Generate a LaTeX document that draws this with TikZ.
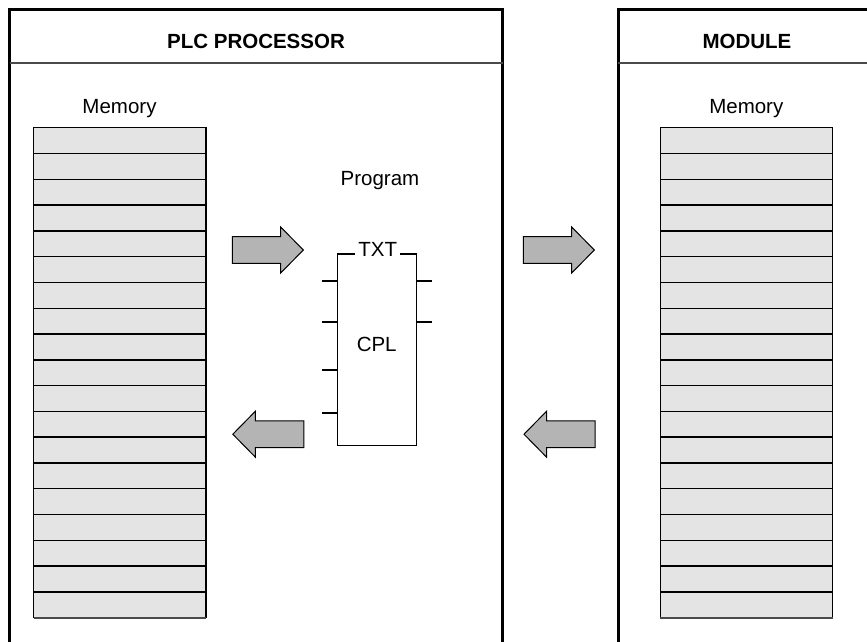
\documentclass[tikz,border=0pt]{standalone}
\usepackage{fontspec}
\setmainfont{Liberation Sans}
\definecolor{memfill}{HTML}{E4E4E4}
\definecolor{arrowfill}{HTML}{B4B4B4}
\definecolor{rulegray}{HTML}{4A4A4A}
\begin{document}
\begin{tikzpicture}[x=1pt,y=-1pt,
  every node/.style={inner sep=0pt, outer sep=0pt},
  txt/.style={font=\fontsize{20.5}{24}\selectfont, anchor=base},
  head/.style={font=\fontsize{20.5}{24}\selectfont\bfseries, anchor=base},
  panel/.style={draw=black, line width=2.6pt, anchor=north west},
  headrule/.style={draw=rulegray, line width=1.5pt},
  memrow/.style={draw=black, line width=1.4pt, fill=memfill, anchor=north west,
    minimum width=172.3pt, minimum height=25.79pt},
  membase/.style={draw=rulegray, line width=2.2pt},
  fbbox/.style={draw=black, line width=1.4pt, anchor=north west},
  fbpin/.style={draw=black, line width=2pt},
  blockarrow/.style={draw=black, line width=1pt, fill=arrowfill, line join=miter},
  flowarrow/.pic={
    \path[blockarrow] (0,-13.3) -- (48.4,-13.3) -- (48.4,-23) -- (71,0)
      -- (48.4,23) -- (48.4,13.3) -- (0,13.3) -- cycle;}
]
\path[use as bounding box] (0,0) rectangle (867,641);
\clip (0,0) rectangle (867,641);

% processor and module frames (they run past the lower and right edges)
\node[panel, minimum width=493.2pt, minimum height=700pt] (plc) at (9.5,9.5) {};
\node[panel, minimum width=270pt, minimum height=700pt] (mod) at (618.3,9.5) {};
\draw[headrule] (plc.west |- 0,63) -- (plc.east |- 0,63);
\draw[headrule] (mod.west |- 0,63) -- (mod.east |- 0,63);
\node[head] (plctitle) at (256,48.5) {PLC PROCESSOR};
\node[head] (modtitle) at (747,48.5) {MODULE};

% memory tables
\node[txt] (memLlbl) at (119.5,113.3) {Memory};
\node[txt] (memRlbl) at (746.3,113.3) {Memory};
\foreach \i in {0,...,18} {
  \node[memrow] (mL\i) at (33.5,{127.7+\i*25.79}) {};
  \node[memrow] (mR\i) at (660.2,{127.7+\i*25.79}) {};
}
\draw[membase] (mL18.south west) -- (mL18.south east);
\draw[membase] (mR18.south west) -- (mR18.south east);

% function block
\node[txt] (prog) at (380,185) {Program};
\node[fbbox, minimum width=79.4pt, minimum height=191.7pt] (cpl) at (337.3,254) {};
\node[txt, fill=white, inner xsep=3.2pt, inner ysep=1pt] (txtlbl) at (377.7,256.6) {TXT};
\node[txt] (cpllbl) at (376.7,351.7) {CPL};
\foreach \y in {280.7,322.3,370,413.3}
  \draw[fbpin] (cpl.west |- 0,\y) -- ++(-15.3,0);
\foreach \y in {280.7,322.3}
  \draw[fbpin] (cpl.east |- 0,\y) -- ++(15.6,0);

% data flow arrows
\pic (toprog)  at (232.3,250)   {flowarrow};
\pic (tomod)   at (523.3,250)   {flowarrow};
\pic[xscale=-1] (tomemL) at (303.8,434.2) {flowarrow};
\pic[xscale=-1] (fromod) at (595,434.2)   {flowarrow};
\end{tikzpicture}
\end{document}
